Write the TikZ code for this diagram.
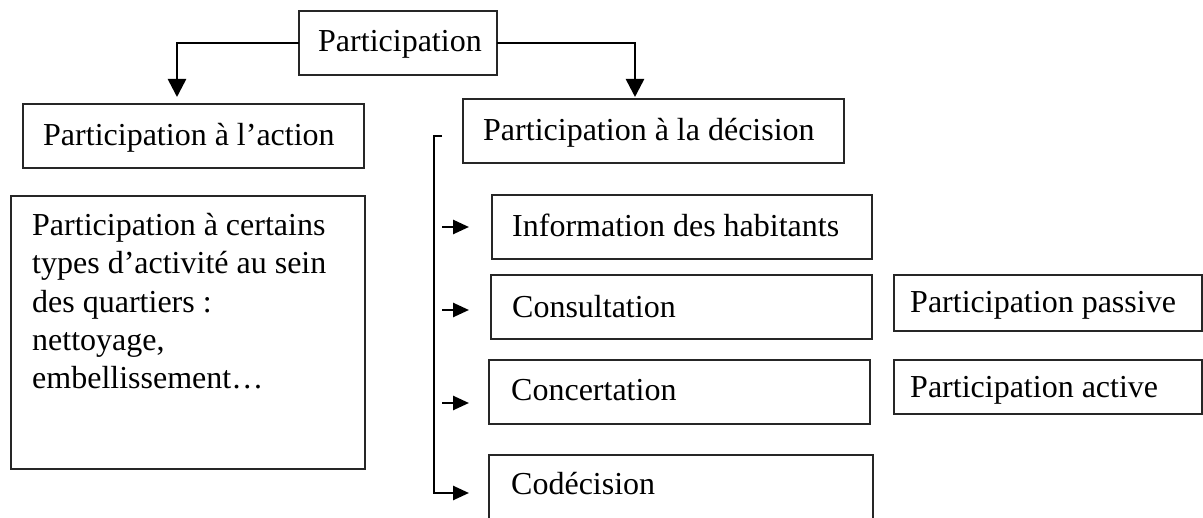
\documentclass[tikz,border=0pt]{standalone}
\usepackage{fontspec}
\setmainfont{Liberation Serif}
\usetikzlibrary{arrows.meta}

% rectangle given by its corners (x1,y1) and (x2,y2), y counted downwards
\newcommand\mkpanel[5]{%
  \node[frame, minimum width={#4-#2}, minimum height={#5-#3}] (#1) at (#2,#3) {};}

\begin{document}
\begin{tikzpicture}[x=1pt, y=-1pt,
  frame/.style={draw=black!85, line width=1.3pt, inner sep=0pt, outer sep=0pt,
                anchor=north west, fill=white},
  lbl/.style={anchor=base west, inner sep=0pt,
              font=\fontsize{32}{38.3}\selectfont},
  conn/.style={line width=2.6pt, draw=black},
  bigtip/.style={-{Triangle[length=18pt, width=18pt]}},
  smalltip/.style={-{Triangle[length=16pt, width=14pt]}}]

\fill[white] (0,0) rectangle (1203,518);
\useasboundingbox (0,0) rectangle (1203,518);
\clip (0,0) rectangle (1203,518);

% boxes
\mkpanel{top}{299}{11}{497}{75}
\mkpanel{action}{23}{104}{364}{168}
\mkpanel{details}{11}{196}{365}{469}
\mkpanel{dec}{463}{99}{844}{163}
\mkpanel{info}{492}{195}{872}{259}
\mkpanel{consult}{491}{275}{872}{339}
\mkpanel{concert}{489}{360}{870}{424}
\mkpanel{codec}{489}{455}{873}{533}
\mkpanel{passive}{894}{275}{1202}{331}
\mkpanel{active}{894}{360}{1202}{414}

% labels
\node[lbl] (topt) at (318,52) {Participation};
\node[lbl] (actiont) at (43,146) {Participation à l’action};
\node[lbl, anchor=north west, align=left] (detailst) at (32,213)
  {Participation à certains\\types d’activité au sein\\des quartiers :\\nettoyage,\\embellissement…};
\node[lbl] (dect) at (483,141) {Participation à la décision};
\node[lbl] (infot) at (512,237) {Information des habitants};
\node[lbl] (consultt) at (512,318) {Consultation};
\node[lbl] (concertt) at (511,401) {Concertation};
\node[lbl] (codect) at (511,495) {Codécision};
\node[lbl] (passivet) at (910,313) {Participation passive};
\node[lbl] (activet) at (910,398) {Participation active};

% branches from the top box
\coordinate (la) at (177,97);
\coordinate (ra) at (635,97);
\draw[conn, bigtip] (top.west) -| (la);
\draw[conn, bigtip] (top.east) -| (ra);

% bracket feeding the decision levels
\coordinate (bt) at (442,136);
\coordinate (bc) at (434,136);
\coordinate (c1) at (469,227);
\coordinate (c2) at (469,310);
\coordinate (c3) at (469,403);
\coordinate (c4) at (469,493);
\draw[conn, smalltip] (bt) -- (bc) |- (c4);
\draw[conn, smalltip] ([xshift=-27pt]c1) -- (c1);
\draw[conn, smalltip] ([xshift=-27pt]c2) -- (c2);
\draw[conn, smalltip] ([xshift=-27pt]c3) -- (c3);
\end{tikzpicture}
\end{document}
